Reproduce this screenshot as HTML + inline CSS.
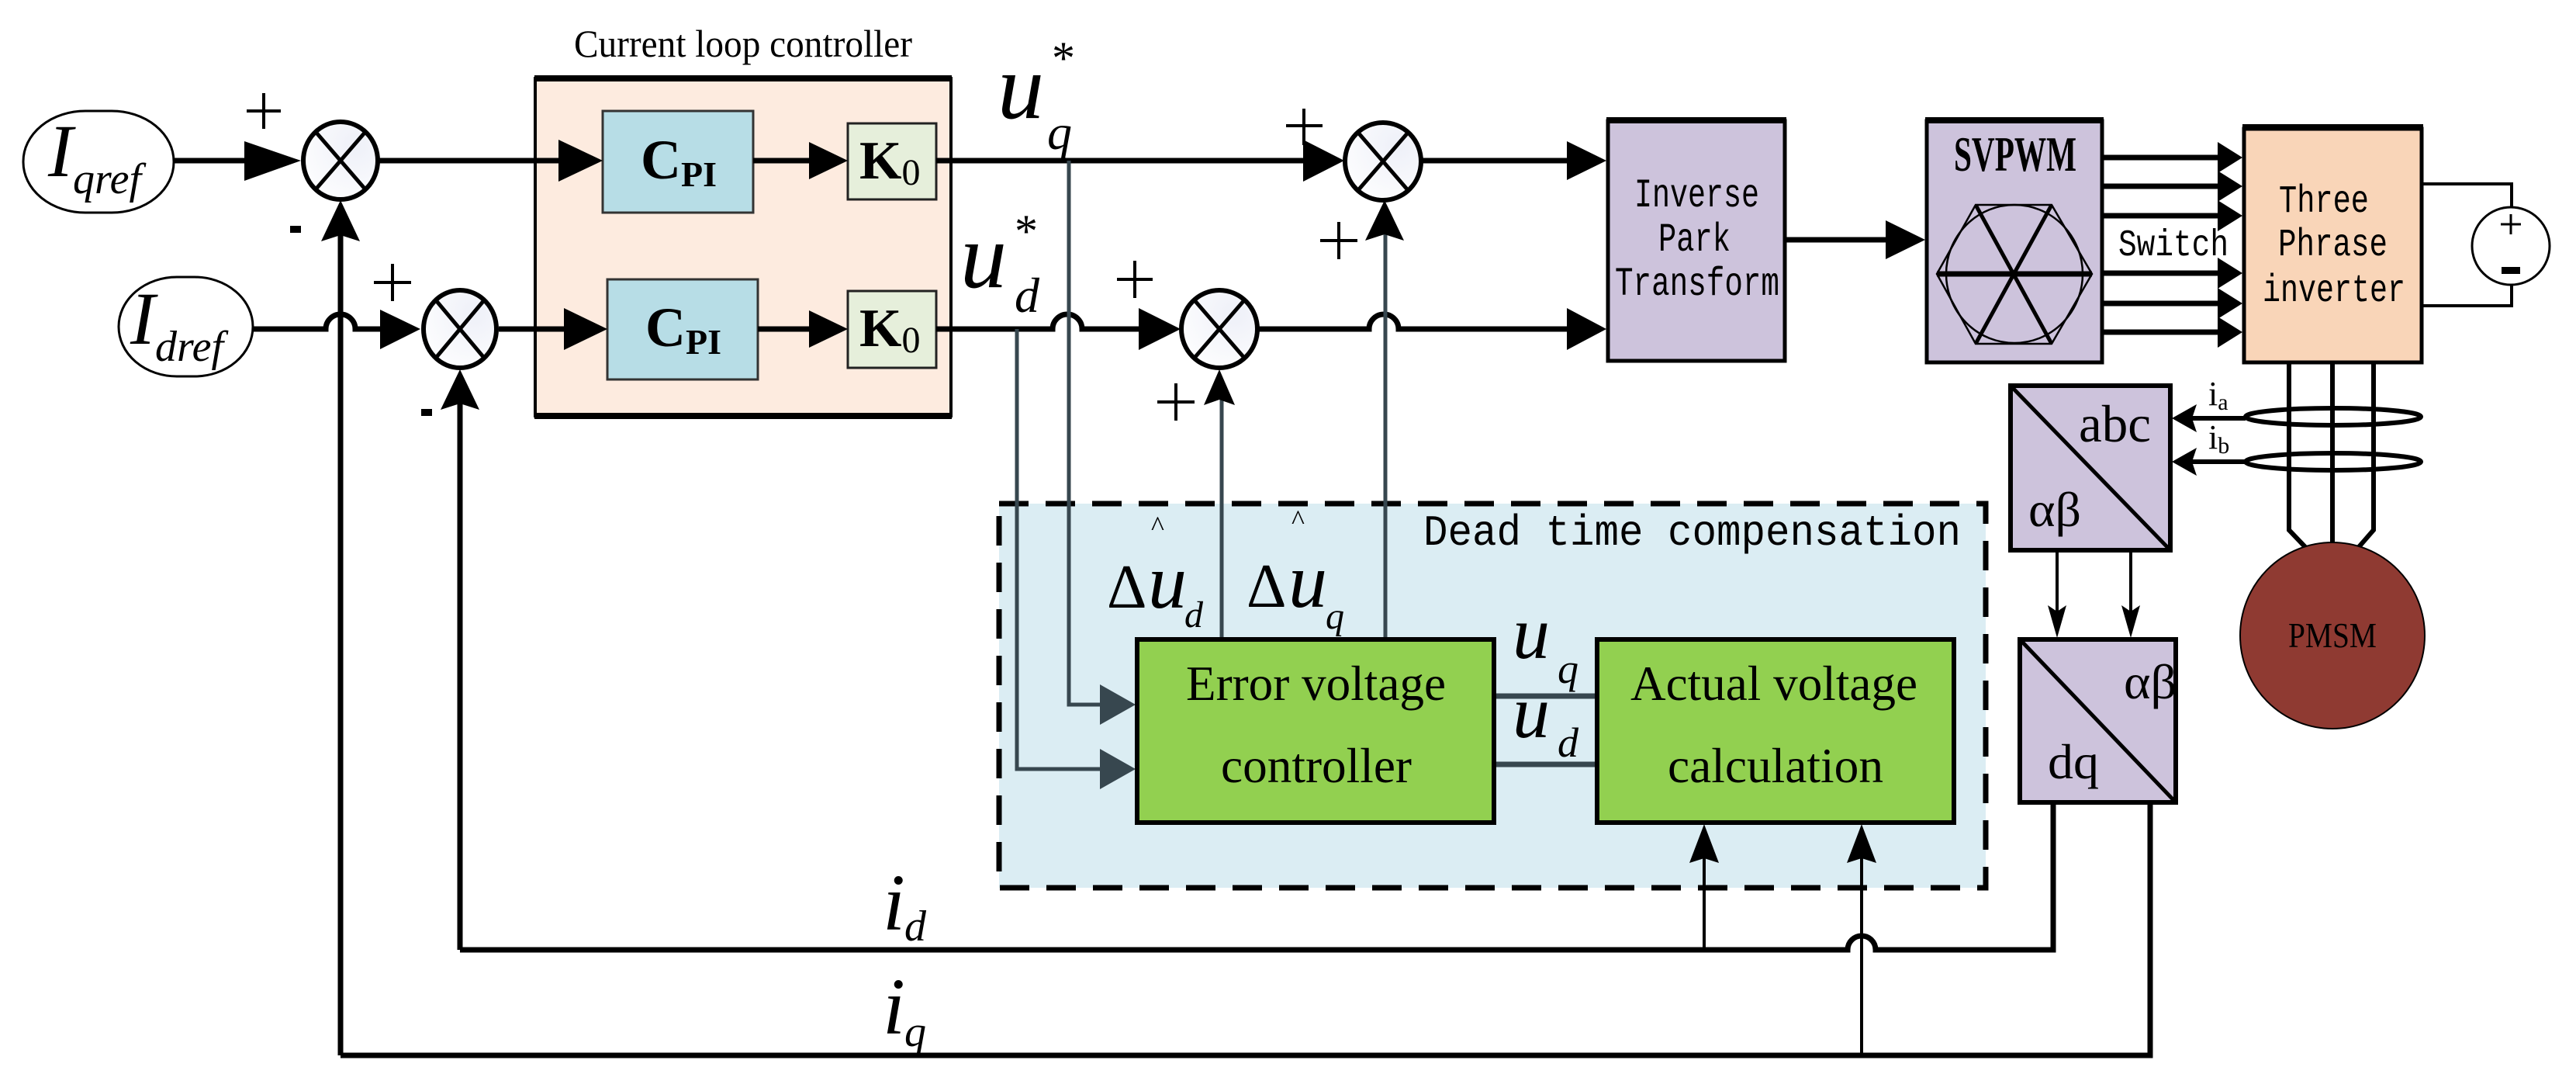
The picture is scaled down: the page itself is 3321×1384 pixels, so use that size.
<!DOCTYPE html>
<html><head><meta charset="utf-8"><style>
html,body{margin:0;padding:0;background:#fff;}
svg{display:block;}
text{font-family:"Liberation Serif",serif;}
.m{font-family:"Liberation Mono",monospace;}
</style></head><body>
<svg width="3321" height="1384" viewBox="0 0 3321 1384" xmlns="http://www.w3.org/2000/svg">
<defs>
<radialGradient id="sg" cx="0.7" cy="0.3" r="0.9"><stop offset="0" stop-color="#eef0f8"/><stop offset="1" stop-color="#ffffff"/></radialGradient>
</defs>

<!-- Dead time compensation box -->
<rect x="1288" y="649" width="1272" height="495" fill="#dbedf3"/>
<rect x="1288" y="649" width="1272" height="495" fill="none" stroke="#000" stroke-width="7" stroke-dasharray="38,22"/>
<text class="m" x="1835" y="702" font-size="56" textLength="693" lengthAdjust="spacingAndGlyphs">Dead time compensation</text>

<!-- Current loop controller -->
<text x="740" y="73" font-size="50" textLength="436" lengthAdjust="spacingAndGlyphs">Current loop controller</text>
<rect x="690" y="101" width="536" height="435" fill="#fdebdf" stroke="#000" stroke-width="4"/>
<line x1="689" y1="101" x2="1227" y2="101" stroke="#000" stroke-width="8"/>
<line x1="689" y1="536" x2="1227" y2="536" stroke="#000" stroke-width="8"/>

<!-- CPI / K0 -->
<rect x="777" y="143" width="194" height="131" fill="#b7dde6" stroke="#333" stroke-width="3"/>
<rect x="783" y="360" width="194" height="129" fill="#b7dde6" stroke="#333" stroke-width="3"/>
<rect x="1093" y="159" width="114" height="98" fill="#e6efdb" stroke="#222" stroke-width="3"/>
<rect x="1093" y="375" width="114" height="99" fill="#e6efdb" stroke="#222" stroke-width="3"/>
<text x="826" y="230" font-size="72" font-weight="bold">C<tspan font-size="46" dy="10">PI</tspan></text>
<text x="832" y="446" font-size="72" font-weight="bold">C<tspan font-size="46" dy="10">PI</tspan></text>
<text x="1108" y="230" font-size="70" font-weight="bold">K<tspan font-size="48" dy="8" font-weight="normal">0</tspan></text>
<text x="1108" y="446" font-size="70" font-weight="bold">K<tspan font-size="48" dy="8" font-weight="normal">0</tspan></text>

<!-- inputs -->
<rect x="30" y="143" width="194" height="131" rx="80" ry="65" fill="#fff" stroke="#000" stroke-width="3"/>
<rect x="153" y="357" width="173" height="128" rx="75" ry="64" fill="#fff" stroke="#000" stroke-width="3"/>
<text x="62" y="227" font-size="96" font-style="italic">I<tspan font-size="56" dy="22">qref</tspan></text>
<text x="168" y="443" font-size="96" font-style="italic">I<tspan font-size="56" dy="22">dref</tspan></text>

<g stroke="#000" stroke-width="7" fill="none">
<line x1="224" y1="207" x2="330" y2="207"/>
<line x1="489" y1="207" x2="740" y2="207"/>
<line x1="971" y1="207" x2="1060" y2="207"/>
<line x1="1207" y1="207" x2="1710" y2="207"/>
<path d="M326 424 H420 a19 19 0 0 1 38 0 H500"/>
<line x1="643" y1="424" x2="745" y2="424"/>
<line x1="977" y1="424" x2="1060" y2="424"/>
<path d="M1207 424 H1357 a19 19 0 0 1 38 0 H1480"/>
<path d="M1622 424 H1765 a19 19 0 0 1 38 0 H2030"/>
<line x1="1833" y1="207" x2="2030" y2="207"/>
<line x1="2302" y1="309" x2="2440" y2="309"/>
<line x1="439" y1="300" x2="439" y2="1360"/>
<line x1="593" y1="515" x2="593" y2="1224"/>
<path d="M593 1224 H2382 a18 18 0 0 1 36 0 H2647 V1035"/>
<path d="M439 1360 H2772 V1035"/>
</g>
<g stroke="#000" stroke-width="4" fill="none">
<line x1="2197" y1="1224" x2="2197" y2="1100"/>
<line x1="2400" y1="1360" x2="2400" y2="1100"/>
</g>

<!-- dead-time internal lines -->
<g stroke="#37474f" stroke-width="5" fill="none">
<path d="M1378 207 V908 H1425"/>
<path d="M1311 424 V991 H1425"/>
<line x1="1575" y1="822" x2="1575" y2="505"/>
<line x1="1786" y1="822" x2="1786" y2="290"/>
<line x1="1927" y1="897" x2="2057" y2="897" stroke-width="7"/>
<line x1="1927" y1="985" x2="2057" y2="985" stroke-width="7"/>
</g>
<g fill="#37474f">
<polygon points="1464,908 1418,882 1418,934"/>
<polygon points="1464,991 1418,965 1418,1017"/>
</g>

<g fill="#000">
<polygon points="388,207 315,182 315,233"/>
<polygon points="542,424 490,399 490,450"/>
<polygon points="777,207 720,180 720,234"/>
<polygon points="783,424 727,397 727,451"/>
<polygon points="1093,207 1043,183 1043,231"/>
<polygon points="1093,424 1043,400 1043,448"/>
<polygon points="1733,207 1680,180 1680,234"/>
<polygon points="1522,424 1468,397 1468,451"/>
<polygon points="2071,207 2020,182 2020,232"/>
<polygon points="2071,424 2020,397 2020,451"/>
<polygon points="2482,309 2431,284 2431,334"/>
<polygon points="439,258 414,311 439,303 464,311"/>
<polygon points="593,476 568,528 593,520 618,528"/>
<polygon points="1572,476 1552,522 1572,515 1592,522"/>
<polygon points="1785,258 1760,310 1785,302 1810,310"/>
<polygon points="2197,1062 2178,1112 2197,1106 2216,1112"/>
<polygon points="2400,1062 2381,1112 2400,1106 2419,1112"/>
</g>

<g stroke="#000" stroke-width="6" fill="url(#sg)">
<ellipse cx="439" cy="207" rx="48" ry="50"/>
<ellipse cx="593" cy="424" rx="47" ry="50"/>
<ellipse cx="1783" cy="208" rx="49" ry="50"/>
<ellipse cx="1572" cy="424" rx="49" ry="50"/>
</g>
<g stroke="#000" stroke-width="5">
<line x1="407" y1="170" x2="471" y2="244"/><line x1="471" y1="170" x2="407" y2="244"/>
<line x1="562" y1="387" x2="624" y2="461"/><line x1="624" y1="387" x2="562" y2="461"/>
<line x1="1751" y1="171" x2="1815" y2="245"/><line x1="1815" y1="171" x2="1751" y2="245"/>
<line x1="1540" y1="387" x2="1604" y2="461"/><line x1="1604" y1="387" x2="1540" y2="461"/>
</g>
<g stroke="#000" stroke-width="4">
<line x1="340" y1="120" x2="340" y2="166"/><line x1="318" y1="143" x2="362" y2="143"/>
<line x1="506" y1="340" x2="506" y2="388"/><line x1="482" y1="364" x2="530" y2="364"/>
<line x1="1681" y1="140" x2="1681" y2="187"/><line x1="1658" y1="162" x2="1705" y2="162"/>
<line x1="1726" y1="286" x2="1726" y2="334"/><line x1="1702" y1="310" x2="1750" y2="310"/>
<line x1="1463" y1="336" x2="1463" y2="384"/><line x1="1440" y1="360" x2="1486" y2="360"/>
<line x1="1516" y1="494" x2="1516" y2="542"/><line x1="1492" y1="518" x2="1540" y2="518"/>
</g>
<rect x="374" y="291" width="14" height="9" fill="#000"/>
<rect x="543" y="527" width="14" height="9" fill="#000"/>

<!-- u labels -->
<text x="1286" y="152" font-size="120" font-style="italic">u</text>
<text x="1350" y="192" font-size="64" font-style="italic">q</text>
<text x="1356" y="95" font-size="60">*</text>
<text x="1238" y="370" font-size="120" font-style="italic">u</text>
<text x="1308" y="402" font-size="64" font-style="italic">d</text>
<text x="1308" y="318" font-size="60">*</text>

<!-- Δu labels -->
<text x="1427" y="783" font-size="80">Δ</text>
<text x="1480" y="783" font-size="100" font-style="italic">u</text>
<text x="1527" y="808" font-size="48" font-style="italic">d</text>
<text x="1484" y="690" font-size="36">^</text>
<text x="1607" y="782" font-size="80">Δ</text>
<text x="1661" y="782" font-size="100" font-style="italic">u</text>
<text x="1709" y="810" font-size="48" font-style="italic">q</text>
<text x="1665" y="682" font-size="36">^</text>

<!-- green boxes -->
<rect x="1466" y="824" width="460" height="236" fill="#92d050" stroke="#000" stroke-width="6"/>
<rect x="2059" y="824" width="460" height="236" fill="#92d050" stroke="#000" stroke-width="6"/>
<text x="1529" y="902" font-size="64" textLength="335" lengthAdjust="spacingAndGlyphs">Error voltage</text>
<text x="1574" y="1008" font-size="64" textLength="246" lengthAdjust="spacingAndGlyphs">controller</text>
<text x="2102" y="902" font-size="64" textLength="370" lengthAdjust="spacingAndGlyphs">Actual voltage</text>
<text x="2150" y="1008" font-size="64" textLength="278" lengthAdjust="spacingAndGlyphs">calculation</text>
<text x="1950" y="848" font-size="96" font-style="italic">u</text>
<text x="2008" y="880" font-size="54" font-style="italic">q</text>
<text x="1950" y="950" font-size="96" font-style="italic">u</text>
<text x="2008" y="975" font-size="54" font-style="italic">d</text>

<!-- i labels -->
<text x="1138" y="1198" font-size="104" font-style="italic">i</text>
<text x="1166" y="1212" font-size="56" font-style="italic">d</text>
<text x="1138" y="1332" font-size="104" font-style="italic">i</text>
<text x="1166" y="1348" font-size="56" font-style="italic">q</text>

<!-- Inverse Park -->
<rect x="2073" y="156" width="228" height="309" fill="#cdc3dc" stroke="#000" stroke-width="5"/>
<line x1="2071" y1="155" x2="2303" y2="155" stroke="#000" stroke-width="8"/>
<text class="m" x="2107" y="266" font-size="52" textLength="161" lengthAdjust="spacingAndGlyphs">Inverse</text>
<text class="m" x="2138" y="323" font-size="52" textLength="93" lengthAdjust="spacingAndGlyphs">Park</text>
<text class="m" x="2082" y="380" font-size="52" textLength="212" lengthAdjust="spacingAndGlyphs">Transform</text>

<!-- SVPWM -->
<rect x="2484" y="156" width="226" height="311" fill="#cdc3dc" stroke="#000" stroke-width="5"/>
<line x1="2482" y1="155" x2="2712" y2="155" stroke="#000" stroke-width="8"/>
<text x="2519" y="220" font-size="64" font-weight="bold" textLength="158" lengthAdjust="spacingAndGlyphs">SVPWM</text>
<ellipse cx="2597" cy="353" rx="88" ry="89" fill="none" stroke="#000" stroke-width="2.5"/>
<polygon points="2547,264 2645,264 2697,353 2645,443 2547,443 2497,353" fill="none" stroke="#000" stroke-width="2.5"/>
<g stroke="#000" stroke-width="5">
<line x1="2497" y1="353" x2="2697" y2="353" stroke-width="7"/>
<line x1="2547" y1="264" x2="2645" y2="443"/>
<line x1="2645" y1="264" x2="2547" y2="443"/>
</g>

<g stroke="#000" stroke-width="7">
<line x1="2711" y1="203" x2="2870" y2="203"/><line x1="2711" y1="240" x2="2870" y2="240"/>
<line x1="2711" y1="278" x2="2870" y2="278"/><line x1="2711" y1="352" x2="2870" y2="352"/>
<line x1="2711" y1="391" x2="2870" y2="391"/><line x1="2711" y1="428" x2="2870" y2="428"/>
</g>
<g fill="#000">
<polygon points="2891,203 2859,183 2859,223"/><polygon points="2891,240 2859,220 2859,260"/>
<polygon points="2891,278 2859,258 2859,298"/><polygon points="2891,352 2859,332 2859,372"/>
<polygon points="2891,391 2859,371 2859,411"/><polygon points="2891,428 2859,408 2859,448"/>
</g>
<text class="m" x="2731" y="329" font-size="48" textLength="142" lengthAdjust="spacingAndGlyphs">Switch</text>

<!-- Inverter -->
<rect x="2893" y="166" width="229" height="301" fill="#f9d5b8" stroke="#000" stroke-width="5"/>
<line x1="2891" y1="164" x2="3124" y2="164" stroke="#000" stroke-width="8"/>
<text class="m" x="2938" y="273" font-size="50" textLength="116" lengthAdjust="spacingAndGlyphs">Three</text>
<text class="m" x="2937" y="329" font-size="50" textLength="141" lengthAdjust="spacingAndGlyphs">Phrase</text>
<text class="m" x="2917" y="388" font-size="50" textLength="184" lengthAdjust="spacingAndGlyphs">inverter</text>

<!-- DC source -->
<g stroke="#000" stroke-width="4" fill="none">
<path d="M3123 237 H3238 V267"/>
<path d="M3123 394 H3238 V367"/>
<ellipse cx="3237" cy="317" rx="50" ry="50" fill="#fff" stroke-width="3"/>
<line x1="3237" y1="276" x2="3237" y2="302" stroke-width="3"/><line x1="3224" y1="289" x2="3250" y2="289" stroke-width="3"/>
</g>
<rect x="3225" y="344" width="24" height="9" fill="#000"/>

<!-- phase wires + PMSM -->
<g stroke="#000" stroke-width="6" fill="none">
<path d="M2951 467 V683 L2973 706"/>
<line x1="3007" y1="467" x2="3007" y2="705"/>
<path d="M3060 467 V683 L3040 706"/>
</g>
<ellipse cx="3007" cy="819" rx="119" ry="120" fill="#8f3a32" stroke="#000" stroke-width="2"/>
<text x="2950" y="834" font-size="46" textLength="114" lengthAdjust="spacingAndGlyphs">PMSM</text>
<g stroke="#000" stroke-width="6" fill="none">
<ellipse cx="3008" cy="537" rx="113" ry="11"/>
<ellipse cx="3008" cy="595" rx="113" ry="11"/>
<line x1="2895" y1="539" x2="2820" y2="539"/>
<line x1="2895" y1="595" x2="2820" y2="595"/>
</g>
<g fill="#000">
<polygon points="2800,539 2832,521 2826,539 2832,557"/>
<polygon points="2800,595 2832,577 2826,595 2832,613"/>
</g>
<text x="2847" y="522" font-size="44">i<tspan font-size="30" dy="6">a</tspan></text>
<text x="2847" y="578" font-size="44">i<tspan font-size="30" dy="6">b</tspan></text>

<!-- abc / αβ -->
<rect x="2592" y="497" width="206" height="212" fill="#cdc3dc" stroke="#000" stroke-width="6"/>
<line x1="2592" y1="497" x2="2798" y2="709" stroke="#000" stroke-width="5"/>
<text x="2680" y="569" font-size="68" textLength="93" lengthAdjust="spacingAndGlyphs">abc</text>
<text x="2615" y="678" font-size="64" textLength="68" lengthAdjust="spacingAndGlyphs">αβ</text>
<g stroke="#000" stroke-width="4"><line x1="2652" y1="709" x2="2652" y2="790"/><line x1="2747" y1="709" x2="2747" y2="790"/></g>
<g fill="#000">
<polygon points="2652,822 2640,780 2652,788 2664,780"/>
<polygon points="2747,822 2735,780 2747,788 2759,780"/>
</g>
<!-- αβ / dq -->
<rect x="2604" y="824" width="201" height="210" fill="#cdc3dc" stroke="#000" stroke-width="6"/>
<line x1="2604" y1="824" x2="2805" y2="1034" stroke="#000" stroke-width="5"/>
<text x="2738" y="900" font-size="64" textLength="68" lengthAdjust="spacingAndGlyphs">αβ</text>
<text x="2640" y="1003" font-size="64" textLength="66" lengthAdjust="spacingAndGlyphs">dq</text>
</svg>
</body></html>
